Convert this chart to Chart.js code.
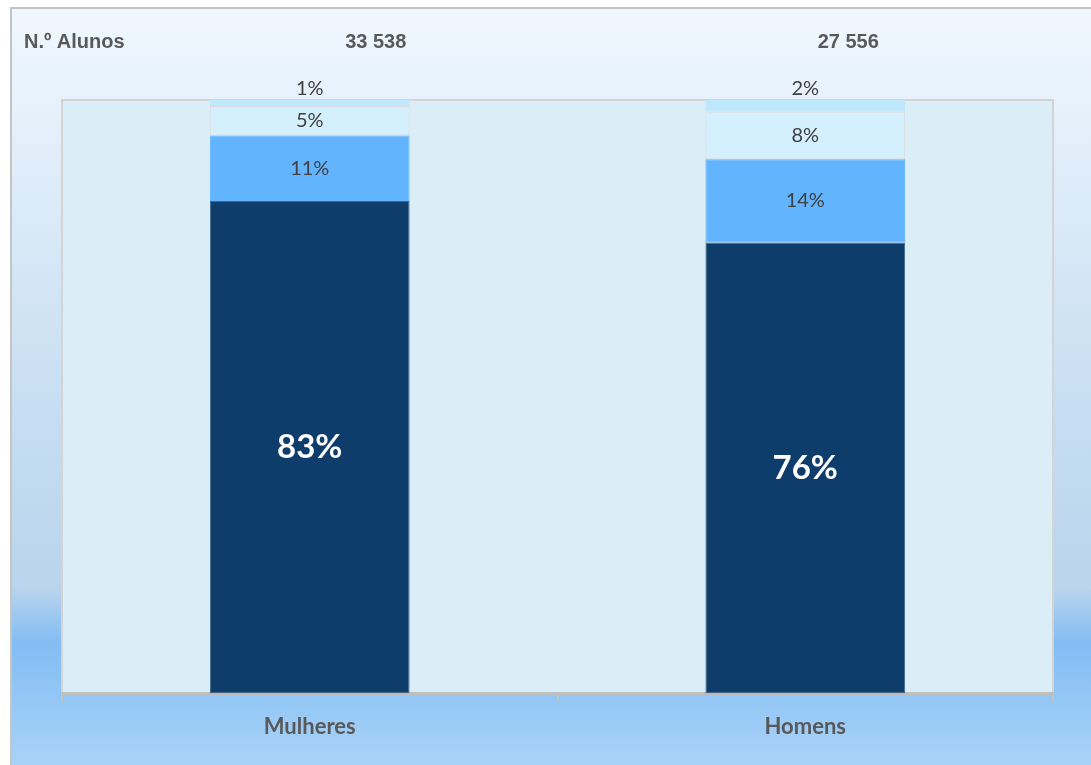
<!DOCTYPE html>
<html>
<head>
<meta charset="utf-8">
<script src="https://cdn.jsdelivr.net/npm/chart.js@4"></script>
<style>
  html, body { margin: 0; padding: 0; background: #ffffff; }
  #box { width: 1091px; height: 765px; }
</style>
</head>
<body>
<div id="box"><canvas id="grafico"></canvas></div>
<script>
// dados do gráfico
const categorias = ['Mulheres', 'Homens'];
const totalAlunos = ['33 538', '27 556'];
const serieA = [83, 76];
const serieB = [11, 14];
const serieC = [5, 8];
const serieD = [1, 2];

const corFundoArea = '#dbeef7';
const corTexto = '#404040';

// fundo com gradiente e moldura
const fundoPlugin = {
    id: 'fundo',
    beforeDraw(chart) {
        const ctx = chart.ctx;
        const h = chart.height, w = chart.width;
        const g = ctx.createLinearGradient(0, 0, 0, h);
        g.addColorStop(0, '#f1f8ff');
        g.addColorStop(0.5, '#c9dff2');
        g.addColorStop(0.77, '#b9d4ec');
        g.addColorStop(0.84, '#82bdf3');
        g.addColorStop(1, '#a9d3f8');
        ctx.save();
        ctx.fillStyle = '#ffffff';
        ctx.fillRect(0, 0, w, h);
        ctx.fillStyle = g;
        ctx.fillRect(10, 8, w - 10, h - 8);
        ctx.strokeStyle = '#c4c4c4';
        ctx.lineWidth = 2;
        ctx.beginPath();
        ctx.moveTo(11, h);
        ctx.lineTo(11, 8);
        ctx.lineTo(w, 8);
        ctx.stroke();

        const a = chart.chartArea;
        ctx.fillStyle = corFundoArea;
        ctx.fillRect(a.left, a.top, a.right - a.left, a.bottom - a.top);
        ctx.strokeStyle = '#d4d4d4';
        ctx.lineWidth = 2;
        ctx.strokeRect(a.left, a.top, a.right - a.left, a.bottom - a.top);
        ctx.restore();
    }
};

// rótulos de percentagem e número de alunos
const rotulosPlugin = {
    id: 'rotulos',
    afterDatasetsDraw(chart) {
        const ctx = chart.ctx;
        ctx.save();
        ctx.textAlign = 'center';
        ctx.textBaseline = 'middle';
        chart.data.datasets.forEach((ds, i) => {
            const meta = chart.getDatasetMeta(i);
            meta.data.forEach((bar, j) => {
                const v = ds.data[j];
                let y = (bar.y + bar.base) / 2;
                if (i === 0) {
                    ctx.fillStyle = '#ffffff';
                    ctx.font = 'bold 33px Lato, "Open Sans", sans-serif';
                } else {
                    ctx.fillStyle = corTexto;
                    ctx.font = '20px Lato, "Open Sans", sans-serif';
                }
                if (i === 3) y = bar.y - 11;
                ctx.fillText(v + '%', bar.x, y);
            });
        });

        ctx.fillStyle = '#595959';
        ctx.font = 'bold 20px "Liberation Sans", Arial, sans-serif';
        ctx.textAlign = 'left';
        ctx.fillText('N.º Alunos', 24, 42);
        ctx.textAlign = 'center';
        const meta0 = chart.getDatasetMeta(0);
        const desloc = [66, 43];
        totalAlunos.forEach((t, j) => {
            ctx.fillText(t, meta0.data[j].x + desloc[j], 42);
        });
        ctx.restore();
    }
};

const conjunto = (label, data, cor, borda) => ({
    label: label,
    data: data,
    backgroundColor: cor,
    borderColor: borda,
    borderWidth: 1,
    borderSkipped: false,
    barPercentage: 1,
    categoryPercentage: 0.403
});

const config = {
    type: 'bar',
    data: {
        labels: categorias,
        datasets: [
            conjunto('A', serieA, '#0e3c6b', '#3b6a8c'),
            conjunto('B', serieB, '#62b4ff', '#62b4ff'),
            conjunto('C', serieC, '#d4effd', '#dcdcdc'),
            conjunto('D', serieD, '#bee8fb', '#bee8fb')
        ]
    },
    options: {
        responsive: true,
        maintainAspectRatio: false,
        animation: false,
        layout: { padding: { left: 62, right: 38, top: 100, bottom: 13 } },
        plugins: {
            legend: { display: false },
            tooltip: { enabled: false }
        },
        scales: {
            x: {
                stacked: true,
                border: { display: true, color: '#bfbfbf', width: 3 },
                grid: {
                    display: true,
                    offset: true,
                    drawOnChartArea: false,
                    drawTicks: true,
                    tickLength: 8,
                    color: '#c4c4c4',
                    lineWidth: 2
                },
                ticks: {
                    color: '#595959',
                    padding: 12,
                    font: { family: 'Lato, "Open Sans", sans-serif', size: 22, weight: 'bold' }
                }
            },
            y: {
                stacked: true,
                display: false,
                min: 0,
                max: 100
            }
        }
    },
    plugins: [fundoPlugin, rotulosPlugin]
};

new Chart(document.getElementById('grafico').getContext('2d'), config);
</script>
</body>
</html>
